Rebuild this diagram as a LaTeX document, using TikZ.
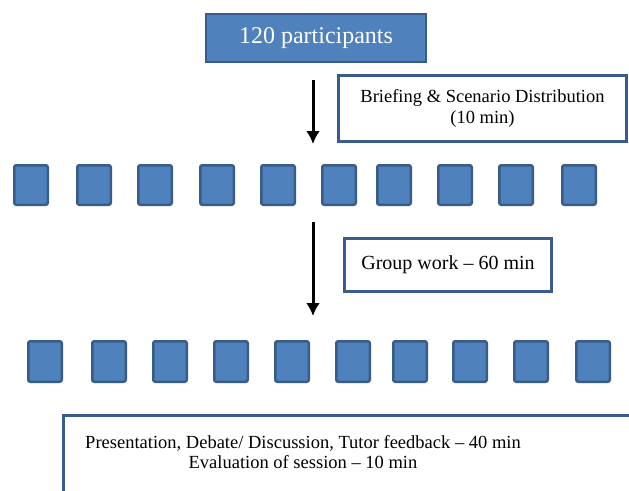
\documentclass[tikz,border=0pt]{standalone}
\usepackage{fontspec}
\setmainfont{Liberation Serif}
\usetikzlibrary{arrows.meta}
\definecolor{boxblue}{HTML}{4F81BD}
\definecolor{edgeblue}{HTML}{385D8A}
\begin{document}
\begin{tikzpicture}[x=1pt,y=-1pt]
    \tikzstyle{grp}=[draw=edgeblue,fill=boxblue,line width=2.5pt,rounded corners=2pt,minimum width=33.5pt,minimum height=39.5pt,inner sep=0]
    \tikzstyle{stage}=[draw=edgeblue,line width=3pt,fill=white,inner sep=0,align=center,font=\fontsize{18.5}{21}\selectfont]
    \tikzstyle{flow}=[-{Latex[length=13pt,width=14pt]},line width=3pt]
    \useasboundingbox (0,0) rectangle (629,490);
    \clip (0,0) rectangle (629,490);
    % start
    \path (316,38) node[draw=edgeblue,fill=boxblue,line width=2pt,minimum width=220pt,minimum height=48pt,text=white,font=\fontsize{24}{28}\selectfont] (all) {120 participants};
    \path (482.5,108.5) node[stage,minimum width=288pt,minimum height=66pt] (brief) {Briefing \& Scenario Distribution\\(10 min)};
    \coordinate (a1s) at (313,80);
    \coordinate (a1e) at (313,144);
    \draw[flow] (a1s) -- (a1e);
    % first row of groups
    \foreach \x [count=\i] in {31,94,155,217,278,339,394,455,516,579}
        \path (\x,185) node[grp] (g\i) {};
    \path (448,265) node[stage,minimum width=207pt,minimum height=53pt,font=\fontsize{20}{22}\selectfont] (work) {Group work -- 60 min};
    \coordinate (a2s) at (313,222);
    \coordinate (a2e) at (313,316);
    \draw[flow] (a2s) -- (a2e);
    % second row of groups
    \foreach \x [count=\i] in {45,109,170,231,292,353,410,470,531,593}
        \path (\x,361.5) node[grp,minimum height=40.5pt] (h\i) {};
    % end
    \path (62,414) node[stage,anchor=north west,minimum width=600pt,minimum height=100pt] (evalbox) {};
    \path (303,452) node[align=center,font=\fontsize{18.5}{20}\selectfont] (evaltext) {Presentation, Debate/ Discussion, Tutor feedback -- 40 min\\Evaluation of session -- 10 min};
\end{tikzpicture}
\end{document}
